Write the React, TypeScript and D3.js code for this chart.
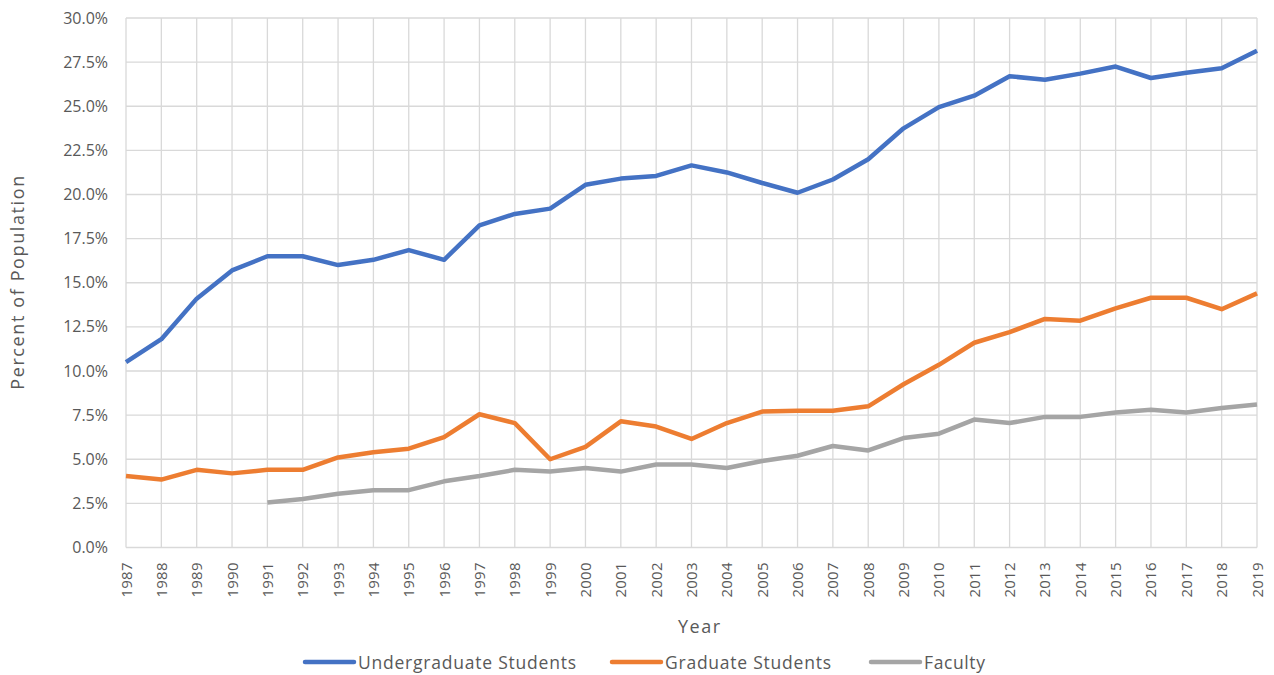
import React, { useEffect, useRef } from 'react';
import * as d3 from 'd3';

// years on the x axis
const years = d3.range(1987, 2020);

// percent of population
const undergrad = [10.5, 11.8, 14.1, 15.7, 16.5, 16.5, 16.0, 16.3, 16.85, 16.3, 18.25, 18.9, 19.2,
  20.55, 20.9, 21.05, 21.65, 21.25, 20.65, 20.1, 20.85, 22.0, 23.75, 24.95, 25.6,
  26.7, 26.5, 26.85, 27.25, 26.6, 26.9, 27.15, 28.15];
const graduate = [4.05, 3.85, 4.4, 4.2, 4.4, 4.4, 5.1, 5.4, 5.6, 6.25, 7.55, 7.05, 5.0,
  5.7, 7.15, 6.85, 6.15, 7.05, 7.7, 7.75, 7.75, 8.0, 9.25, 10.35, 11.6,
  12.2, 12.95, 12.85, 13.55, 14.15, 14.15, 13.5, 14.4];
// faculty series begins in 1991
const faculty = [null, null, null, null, 2.55, 2.75, 3.05, 3.25, 3.25, 3.75, 4.05, 4.4, 4.3,
  4.5, 4.3, 4.7, 4.7, 4.5, 4.9, 5.2, 5.75, 5.5, 6.2, 6.45, 7.25,
  7.05, 7.4, 7.4, 7.65, 7.8, 7.65, 7.9, 8.1];

const yTicks = d3.range(0, 30.01, 2.5);

const seriesNames = ['Undergraduate Students', 'Graduate Students', 'Faculty'];
const seriesColors = ['#4472C4', '#ED7D31', '#A5A5A5'];

export default function App() {
  const svgRef = useRef(null);

  useEffect(() => {
    const svg = d3.select(svgRef.current);
    svg.selectAll('*').remove();

    const left = 126, right = 1257, top = 18, bottom = 547.5;
    const font = "'Open Sans', 'Liberation Sans', sans-serif";
    const textColor = '#595959';

    const x = d3.scaleLinear().domain([1987, 2019]).range([left, right]);
    const y = d3.scaleLinear().domain([0, 30]).range([bottom, top]);

    // gridlines
    const grid = svg.append('g').attr('stroke', '#d9d9d9').attr('stroke-width', 1.3);
    grid.selectAll('line.h').data(yTicks).enter().append('line')
      .attr('x1', left).attr('x2', right)
      .attr('y1', d => y(d)).attr('y2', d => y(d));
    grid.selectAll('line.v').data(years).enter().append('line')
      .attr('x1', d => x(d)).attr('x2', d => x(d))
      .attr('y1', top).attr('y2', bottom);

    // y tick labels
    svg.append('g').selectAll('text').data(yTicks).enter().append('text')
      .attr('x', left - 18).attr('y', d => y(d) + 5.5)
      .attr('text-anchor', 'end')
      .attr('font-family', font).attr('font-size', 16).attr('fill', textColor)
      .text(d => d.toFixed(1) + '%');

    // x tick labels, rotated
    svg.append('g').selectAll('text').data(years).enter().append('text')
      .attr('transform', d => `translate(${x(d) + 5.5},${bottom + 15}) rotate(-90)`)
      .attr('text-anchor', 'end')
      .attr('font-family', font).attr('font-size', 15).attr('fill', textColor)
      .attr('textLength', 35).attr('lengthAdjust', 'spacing')
      .text(d => d);

    // axis titles
    svg.append('text')
      .attr('transform', `translate(24,${(top + bottom) / 2}) rotate(-90)`)
      .attr('text-anchor', 'middle')
      .attr('font-family', font).attr('font-size', 18).attr('fill', textColor)
      .attr('textLength', 214).attr('lengthAdjust', 'spacing')
      .text('Percent of Population');
    svg.append('text')
      .attr('x', 699).attr('y', 633)
      .attr('text-anchor', 'middle')
      .attr('font-family', font).attr('font-size', 18).attr('fill', textColor)
      .attr('textLength', 42).attr('lengthAdjust', 'spacing')
      .text('Year');

    // lines
    const allSeries = [undergrad, graduate, faculty];
    const line = d3.line()
      .defined(d => d[1] != null)
      .x(d => x(d[0]))
      .y(d => y(d[1]));
    allSeries.forEach((vals, i) => {
      svg.append('path')
        .datum(years.map((yr, j) => [yr, vals[j]]))
        .attr('d', line)
        .attr('fill', 'none')
        .attr('stroke', seriesColors[i])
        .attr('stroke-width', 4.5)
        .attr('stroke-linejoin', 'round');
    });

    // legend
    const legendX = [305, 612, 871];
    const legendW = [218, 166, 61];
    const legend = svg.append('g');
    seriesNames.forEach((name, i) => {
      legend.append('line')
        .attr('x1', legendX[i]).attr('x2', legendX[i] + 49)
        .attr('y1', 662).attr('y2', 662)
        .attr('stroke', seriesColors[i]).attr('stroke-width', 4.5)
        .attr('stroke-linecap', 'round');
      legend.append('text')
        .attr('x', legendX[i] + 53).attr('y', 668.5)
        .attr('font-family', font).attr('font-size', 17.5).attr('fill', textColor)
        .attr('textLength', legendW[i]).attr('lengthAdjust', 'spacing')
        .text(name);
    });
  }, []);

  return (
    <svg
      ref={svgRef}
      width={1274}
      height={675}
      style={{ position: 'absolute', left: 0, top: 0, background: '#fff' }}
    />
  );
}
